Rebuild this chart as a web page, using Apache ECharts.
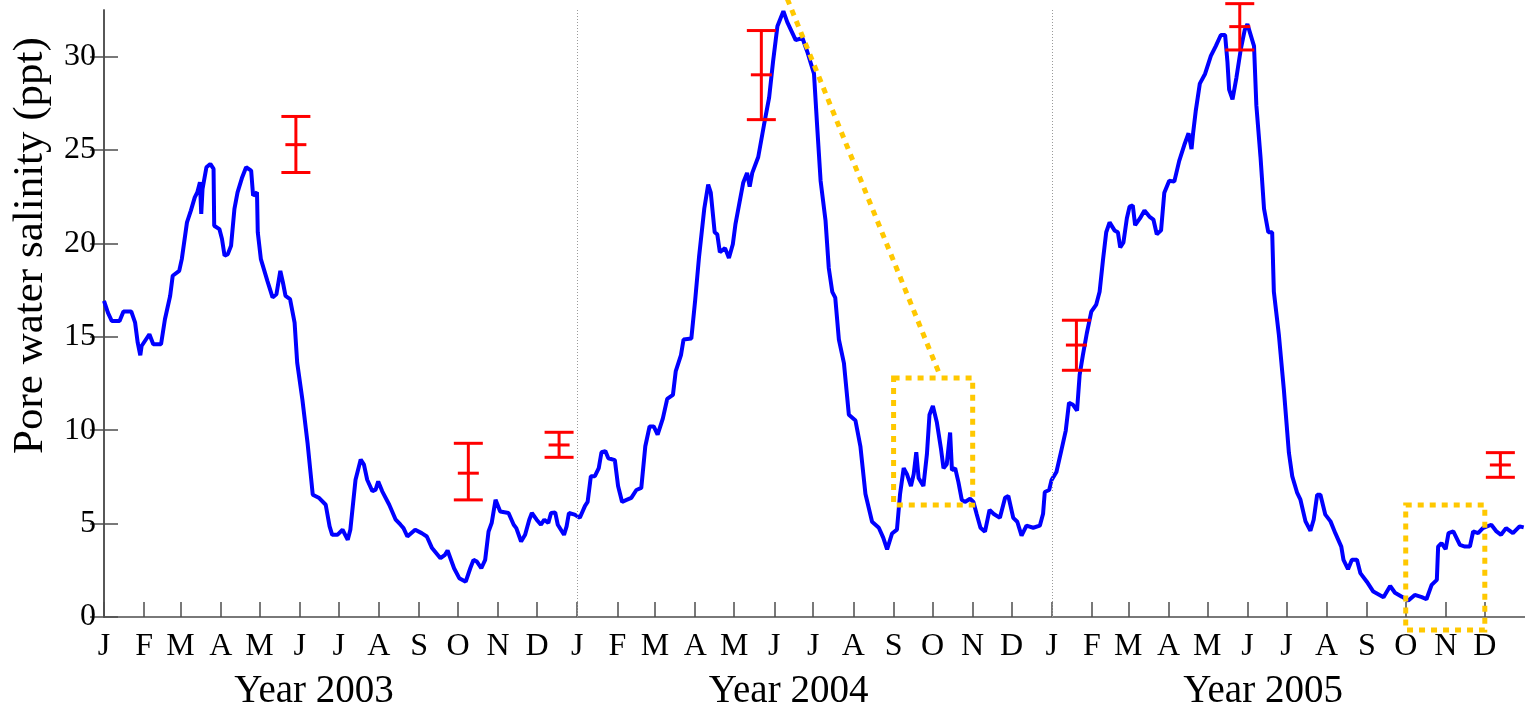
<!DOCTYPE html>
<html><head><meta charset="utf-8">
<script src="https://cdn.jsdelivr.net/npm/echarts@6/dist/echarts.min.js"></script>
<style>html,body{margin:0;padding:0;background:#fff}#c{width:1525px;height:711px}</style>
</head><body><div id="c"></div>
<script>
// x values are days since 1 Jan 2003
const salinity2003 = [[0,16.92],[3,16.30],[6,15.85],[12,15.85],[15,16.36],[21,16.36],[24,15.76],[26,14.69],[28,14.01],[29,14.51],[35,15.14],[38,14.60],[44,14.60],[47,15.94],[51,17.19],[53,18.27],[58,18.53],[60,19.16],[64,21.13],[67,21.76],[70,22.47],[72,22.74],[74,23.28],[75,21.58],[76,22.92],[79,24.08],[82,24.26],[84.5,23.99],[85,20.95],[89,20.77],[91,20.24],[93,19.34],[95.5,19.43],[98,19.88],[100.6,21.85],[103,22.74],[106.6,23.55],[109.6,24.08],[113.5,23.90],[115,22.56],[118,22.74],[118.6,20.60],[121,19.16],[126,18.00],[130,17.11],[133,17.28],[136,18.53],[138,17.91],[140,17.19],[143.5,17.02],[147,15.76],[149,13.62],[153,11.65],[157,9.32],[161,6.55],[166,6.37],[171,6.01],[174,4.85],[176,4.40],[180,4.40],[184,4.67],[188,4.13],[190,4.67],[194,7.35],[198,8.43],[200.5,8.16],[203,7.35],[207,6.73],[209.5,6.82],[211.5,7.26],[214.6,6.73],[220,6.01],[225,5.21],[228.7,4.94],[231,4.76],[234,4.31],[240,4.67],[245,4.49],[249,4.31],[253,3.69],[259.5,3.15],[263,3.33],[265,3.56],[270,2.61],[274,2.08],[279,1.89],[282.5,2.61],[285,3.06],[287.6,2.97],[291,2.61],[294,3.06],[296.6,4.58],[299,5.03],[302,6.28],[303,6.19],[305.6,5.65],[312,5.57],[316,4.94],[318,4.76],[321.7,4.04],[324.8,4.40],[328,5.21],[330,5.57],[333.7,5.21],[337,4.94],[339.6,5.21],[342.7,5.03],[344.8,5.57],[348,5.60],[350,4.94],[354.8,4.40],[356.8,4.85],[358.6,5.57],[363,5.48]];
const salinity2004 = [[367,5.31],[371,5.95],[373,6.16],[375.5,7.54],[378.6,7.54],[381.6,7.97],[383.7,8.82],[386.7,8.88],[389,8.50],[394,8.40],[396.5,7.01],[399.6,6.16],[403,6.27],[406.7,6.38],[410.6,6.80],[414.4,6.91],[417.5,9.14],[420.8,10.20],[424,10.20],[427,9.77],[431,10.62],[434.4,11.68],[438.8,11.89],[441,13.17],[445,14.02],[447,14.86],[453,14.91],[456,16.99],[459,19.32],[463,21.87],[466,23.15],[468,22.72],[471,20.60],[473,20.49],[475,19.53],[479,19.75],[482,19.22],[485,19.96],[487,21.02],[491,22.51],[493,23.25],[496,23.78],[498,23.04],[500,23.78],[504.6,24.63],[509,26.33],[513,27.81],[516,29.72],[519.4,31.63],[524,32.44],[527,31.85],[533.5,30.89],[538.7,31.00],[542.5,30.25],[547.6,29.09],[550,26.33],[552.7,23.36],[556.5,21.23],[559,18.69],[561.7,17.41],[564,17.10],[566.8,14.86],[570.7,13.59],[574.5,10.83],[579.6,10.52],[583.4,9.14],[587.3,6.59],[592.4,5.10],[597.6,4.78],[601,4.25],[604,3.62],[607.8,4.47],[611.6,4.68],[614,6.59],[616.8,7.97],[619.3,7.65],[622.4,7.01],[624.5,7.65],[626.5,8.82],[628.3,7.44],[632,7.01],[634.7,8.71],[636.7,10.83],[639.3,11.30],[642.4,10.41],[645.5,9.03],[647.5,7.97],[650,8.18],[652.6,9.88],[654,7.86],[656.5,7.97],[659,7.22],[661.6,6.27],[664,6.16],[668,6.33],[670.6,6.16],[673,5.53],[676,4.78],[679.5,4.57],[683,5.74],[686,5.53],[691,5.31],[695,6.38],[697.5,6.48],[701.3,5.31],[704.4,5.10],[707.7,4.36],[711.5,4.89],[716.7,4.78],[721.8,4.89],[724.3,5.53],[725.6,6.69],[729,6.80]];
const salinity2005 = [[730.8,7.33],[734.6,7.76],[738.4,8.92],[741.8,9.98],[744.3,11.47],[747.4,11.36],[750.5,11.05],[752.5,12.96],[755,14.02],[758,15.18],[761.5,16.35],[765.3,16.73],[767.9,17.41],[770.5,19.11],[773,20.60],[775.6,21.13],[779.4,20.70],[782,20.60],[783.8,19.79],[786.3,20.06],[788.9,21.34],[791,21.97],[793.5,22.04],[795.3,20.98],[799,21.34],[802.5,21.77],[806.3,21.44],[809.4,21.28],[812,20.49],[815.3,20.70],[817.8,22.72],[821.6,23.36],[825.5,23.31],[829.3,24.42],[833.2,25.27],[836.5,25.90],[838.8,25.05],[840,25.90],[842,27.07],[845.2,28.56],[849.3,29.09],[853.7,30.04],[857.5,30.57],[861.4,31.16],[864.7,31.16],[866.5,29.72],[867.8,28.24],[870.4,27.71],[873.4,28.87],[876.7,30.36],[879.8,31.42],[881.9,31.74],[887,30.57],[888.8,27.39],[892,24.63],[894.7,21.87],[898,20.60],[901,20.60],[902.3,17.41],[906.2,15.08],[910,12.18],[913.9,8.79],[916.5,7.53],[920.3,6.64],[922.8,6.28],[926.7,5.12],[930.5,4.62],[933,5.21],[935.7,6.55],[938.2,6.55],[942,5.48],[946,5.12],[949.7,4.49],[954.3,3.77],[956,3.06],[959.5,2.56],[962.5,3.06],[966.4,3.06],[969,2.35],[974,1.89],[979,1.36],[986.9,1.06],[992,1.66],[995.7,1.30],[1001,1.09],[1006,0.88],[1011,1.18],[1016.4,1.06],[1020,0.95],[1024,1.72],[1028,1.99],[1029,3.77],[1031.6,3.96],[1034.8,3.63],[1037,4.49],[1040.7,4.58],[1045.8,3.86],[1049.7,3.77],[1053.5,3.77],[1056,4.58],[1059.8,4.49],[1063.5,4.76],[1070,4.94],[1074,4.58],[1077.5,4.40],[1081.4,4.76],[1086.7,4.49],[1091.8,4.85],[1095,4.80]];

// measured samples: day, mean, low, high
const sampleDays  = [148, 281, 351, 507, 750, 876, 1077];
const sampleMean  = [25.29, 7.70, 9.21, 29.03, 14.56, 31.61, 8.14];
const sampleLow   = [23.80, 6.27, 8.55, 26.63, 13.21, 30.36, 7.48];
const sampleHigh  = [26.80, 9.30, 9.89, 31.40, 15.89, 32.84, 8.80];

// highlight boxes: dayFrom, dayTo, low, high
const highlightBoxes = [[609, 670, 6.0, 12.8], [1004, 1065, -0.7, 6.0]];
const zoomLine = [[527, 33.1, 645, 12.9]];

const yearStartDays = [365, 731];
const monthStartDays = [0,31,59,90,120,151,181,212,243,273,304,334,
  365,396,425,456,486,517,547,578,609,639,670,700,
  731,762,790,821,851,882,912,943,974,1004,1035,1065];
const monthLetters = ['J','F','M','A','M','J','J','A','S','O','N','D'];
const yearLabelDays = [162, 528, 894];
const yearLabels = ['Year 2003', 'Year 2004', 'Year 2005'];
const yTicks = [0, 5, 10, 15, 20, 25, 30];

const FONT = 'Liberation Serif';
const AXIS_COLOR = '#4d4d4d';
const YELLOW = '#FFC800';

const chart = echarts.init(document.getElementById('c'), null, {renderer: 'canvas'});
const salinity = salinity2003.concat(salinity2004, salinity2005);
const errData = sampleDays.map((d, i) => [d, sampleMean[i], sampleLow[i], sampleHigh[i]]);

chart.setOption({
  animation: false,
  backgroundColor: '#fff',
  grid: {left: 104, right: -4, top: 10, bottom: 94, containLabel: false},
  xAxis: [{
    type: 'value', min: 0, max: 1096, position: 'bottom',
    axisLine: {show: true, onZero: false, lineStyle: {color: AXIS_COLOR, width: 1.5}},
    axisTick: {show: true, inside: true, length: 15, customValues: monthStartDays, lineStyle: {color: AXIS_COLOR, width: 1.5}},
    axisLabel: {show: true, customValues: monthStartDays, margin: 14,
      formatter: v => monthLetters[monthStartDays.indexOf(v) % 12],
      fontFamily: FONT, fontSize: 32, color: '#000'},
    splitLine: {show: false}
  }, {
    type: 'value', min: 0, max: 1096, position: 'bottom', offset: 0,
    axisLine: {show: false}, axisTick: {show: false}, splitLine: {show: false},
    axisLabel: {show: true, customValues: yearLabelDays, margin: 55,
      formatter: v => yearLabels[yearLabelDays.indexOf(v)],
      fontFamily: FONT, fontSize: 39, color: '#000'}
  }],
  yAxis: [{
    type: 'value', min: 0, max: 32.5, position: 'left',
    name: 'Pore water salinity (ppt)', nameLocation: 'middle', nameGap: 52,
    nameTextStyle: {fontFamily: FONT, fontSize: 43, color: '#000', padding: [0, 0, 0, 136]},
    axisLine: {show: true, lineStyle: {color: AXIS_COLOR, width: 1.5}},
    axisTick: {show: true, inside: true, length: 14, customValues: yTicks, lineStyle: {color: AXIS_COLOR, width: 1.5}},
    axisLabel: {customValues: yTicks, margin: 8, fontFamily: FONT, fontSize: 32, color: '#000'},
    splitLine: {show: false}
  }, {
    type: 'value', min: 0, max: 32.5, position: 'right',
    axisLine: {show: true, lineStyle: {color: AXIS_COLOR, width: 1.5}},
    axisTick: {show: true, inside: true, length: 14, customValues: yTicks, lineStyle: {color: AXIS_COLOR, width: 1.5}},
    axisLabel: {show: false}, splitLine: {show: false}
  }],
  series: [{
    type: 'line', data: salinity, xAxisIndex: 0, yAxisIndex: 0,
    showSymbol: false, symbol: 'none', smooth: false,
    lineStyle: {color: '#0000FF', width: 4}, z: 3,
    markLine: {
      silent: true, symbol: 'none', label: {show: false},
      lineStyle: {color: '#9a9a9a', type: [1, 2], width: 1},
      data: yearStartDays.map(d => ({xAxis: d}))
    }
  }, {
    type: 'custom', data: errData, z: 4, clip: false,
    renderItem: (params, api) => {
      const x = api.value(0);
      const pm = api.coord([x, api.value(1)]);
      const pl = api.coord([x, api.value(2)]);
      const ph = api.coord([x, api.value(3)]);
      const st = {stroke: '#FF0000', lineWidth: 3};
      return {type: 'group', children: [
        {type: 'line', shape: {x1: pl[0], y1: pl[1], x2: ph[0], y2: ph[1]}, style: st},
        {type: 'line', shape: {x1: ph[0] - 14.5, y1: ph[1], x2: ph[0] + 14.5, y2: ph[1]}, style: st},
        {type: 'line', shape: {x1: pl[0] - 14.5, y1: pl[1], x2: pl[0] + 14.5, y2: pl[1]}, style: st},
        {type: 'line', shape: {x1: pm[0] - 10.5, y1: pm[1], x2: pm[0] + 10.5, y2: pm[1]}, style: st}
      ]};
    }
  }, {
    type: 'custom', data: highlightBoxes, z: 5, clip: false,
    renderItem: (params, api) => {
      const a = api.coord([api.value(0), api.value(3)]);
      const b = api.coord([api.value(1), api.value(2)]);
      return {type: 'rect', shape: {x: a[0], y: a[1], width: b[0] - a[0], height: b[1] - a[1]},
        style: {fill: 'none', stroke: YELLOW, lineWidth: 5, lineDash: [6, 6]}};
    }
  }, {
    type: 'custom', data: zoomLine, z: 5, clip: false,
    renderItem: (params, api) => {
      const a = api.coord([api.value(0), api.value(1)]);
      const b = api.coord([api.value(2), api.value(3)]);
      return {type: 'line', shape: {x1: a[0], y1: a[1], x2: b[0], y2: b[1]},
        style: {stroke: YELLOW, lineWidth: 5, lineDash: [6, 6]}};
    }
  }]
});
</script></body></html>
